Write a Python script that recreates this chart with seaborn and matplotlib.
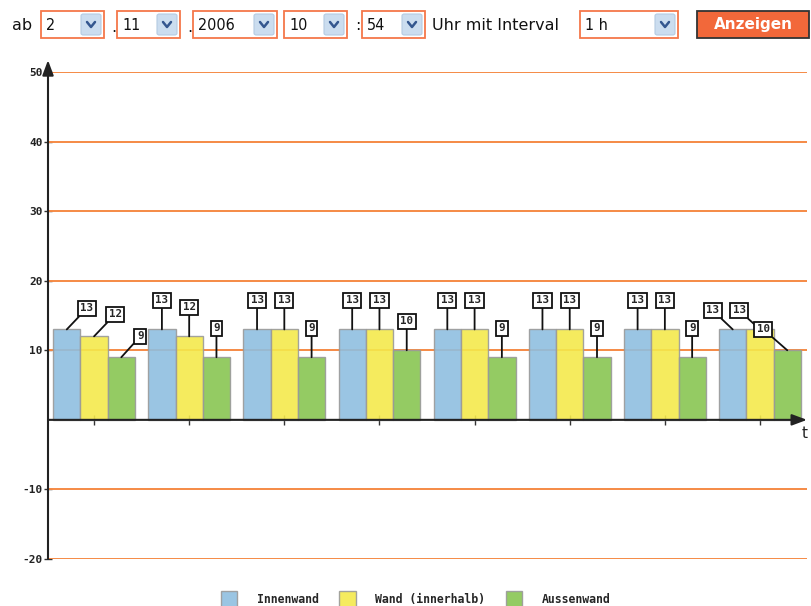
import numpy as np
import pandas as pd
import matplotlib
matplotlib.use('Agg')
import matplotlib.pyplot as plt
from matplotlib.patches import Rectangle, FancyBboxPatch
from matplotlib.lines import Line2D
import seaborn as sns

# values
times = ['1', '2', '3', '4', '5', '6', '7', '8']
innenwand = [13, 13, 13, 13, 13, 13, 13, 13]
wand_innerhalb = [12, 12, 13, 13, 13, 13, 13, 13]
aussenwand = [9, 9, 9, 10, 9, 9, 9, 10]
series_names = ['Innenwand', 'Wand (innerhalb)', 'Aussenwand']
yticks = [-20, -10, 10, 20, 30, 40, 50]

# form controls above the chart
form_values = ['2', '11', '2006', '10', '54', '1 h']

df = pd.DataFrame({
    'time': times * 3,
    'sensor': [series_names[0]] * 8 + [series_names[1]] * 8 + [series_names[2]] * 8,
    'value': innenwand + wand_innerhalb + aussenwand,
})

W, H = 811, 606
sns.set_theme(style='white')
plt.rcParams['font.family'] = ['DejaVu Sans']
fig = plt.figure(figsize=(W / 100, H / 100), dpi=100)
fig.patch.set_facecolor('white')


def fx(x):
    return x / W


def fy(y):
    return 1 - y / H


ax = fig.add_axes([fx(48), fy(559), (807 - 48) / W, (559 - 72) / H])
palette = ['#8fbfe0', '#f4e94c', '#89c652']
sns.barplot(data=df, x='time', y='value', hue='sensor', hue_order=series_names,
            palette=palette, width=0.86, edgecolor='#9a9a9a', linewidth=1.0,
            alpha=0.9, saturation=1, ax=ax, zorder=2)

ax.set_xlim(-0.484, 7.494)
ax.set_ylim(-20, 50)
ax.set_xlabel('')
ax.set_ylabel('')
for s in ax.spines.values():
    s.set_visible(False)
ax.spines['bottom'].set_position(('data', 0))

# orange grid
for v in yticks:
    ax.axhline(v, color='#f58a45', lw=1.4, zorder=1)

ax.set_yticks(yticks)
ax.set_yticklabels([str(v) for v in yticks], family='DejaVu Sans Mono',
                   fontweight='bold', fontsize=8, color='#222222')
ax.tick_params(axis='y', direction='inout', length=6, width=1, color='#333333',
               pad=1, left=True)
ax.set_xticks(range(len(times)))
ax.set_xticklabels([])
ax.tick_params(axis='x', direction='inout', length=7, width=1, color='#333333',
               bottom=True)

# axis lines with arrows
arrow = dict(arrowstyle='-|>,head_length=0.75,head_width=0.28',
             color='#222222', lw=1.5, shrinkA=0, shrinkB=0)
ax.annotate('', xy=(-0.484, 51.7), xytext=(-0.484, -20), annotation_clip=False,
            arrowprops=arrow, zorder=5)
ax.annotate('', xy=(7.494, 0), xytext=(-0.484, 0), annotation_clip=False,
            arrowprops=arrow, zorder=5)
fig.text(fx(805), fy(434), 't', fontsize=11, ha='center', va='center', color='#222222')

# value labels with leader lines
offsets = {0: [(20, 21), (21, 22), (19, 21)],
           7: [(-20, 19), (-21, 19), (-24, 21)]}
for k, cont in enumerate(ax.containers[:3]):
    for g, bar in enumerate(cont):
        h = bar.get_height()
        xc = bar.get_x() + bar.get_width() / 2
        dx, dy = offsets.get(g, [(0, 29)] * 3)[k]
        ax.annotate(f'{int(h)}', xy=(xc, h), xytext=(dx * 0.72, dy * 0.72),
                    textcoords='offset points', ha='center', va='center',
                    family='DejaVu Sans Mono', fontweight='bold', fontsize=7.8,
                    bbox=dict(boxstyle='square,pad=0.24', fc='white', ec='#111111', lw=1.3),
                    arrowprops=dict(arrowstyle='-', color='#111111', lw=1.3,
                                    shrinkA=0, shrinkB=0),
                    zorder=6, annotation_clip=False)

# legend at the bottom
sns.move_legend(ax, 'upper left', bbox_to_anchor=(fx(221), fy(591)),
                bbox_transform=fig.transFigure, ncol=3, frameon=False, title=None,
                borderpad=0, borderaxespad=0, handlelength=1.4, handleheight=1.9,
                handletextpad=1.7, columnspacing=1.8,
                prop={'family': 'DejaVu Sans Mono', 'weight': 'bold', 'size': 8.3})

# form row at the top
boxes = [(41, 104), (117, 180), (193, 277), (284, 347), (362, 425), (580, 678)]
for (x0, x1), val in zip(boxes, form_values):
    fig.patches.append(Rectangle((fx(x0), fy(38)), (x1 - x0) / W, 27 / H,
                                 transform=fig.transFigure, fc='white',
                                 ec='#f4774a', lw=1.3))
    fig.patches.append(FancyBboxPatch((fx(x1 - 23), fy(35)), 20 / W, 21 / H,
                                      boxstyle='round,pad=0,rounding_size=0.003',
                                      transform=fig.transFigure, fc='#cbddef',
                                      ec='#b5cbe2', lw=0.8))
    cx = x1 - 13
    fig.lines.append(Line2D([fx(cx - 4), fx(cx), fx(cx + 4)], [fy(22), fy(27), fy(22)],
                            transform=fig.transFigure, color='#34578f', lw=1.8))
    fig.text(fx(x0 + 5), fy(25), val, fontsize=11.5, ha='left', va='center',
             color='#111111', fontstretch='condensed')

fig.text(fx(12), fy(25), 'ab', fontsize=11.5, ha='left', va='center', color='#111111')
fig.text(fx(111), fy(27), '.', fontsize=11.5, ha='left', va='center', color='#111111')
fig.text(fx(187), fy(27), '.', fontsize=11.5, ha='left', va='center', color='#111111')
fig.text(fx(355), fy(25), ':', fontsize=11.5, ha='left', va='center', color='#111111')
fig.text(fx(432), fy(25), 'Uhr mit Interval', fontsize=11.5, ha='left', va='center',
         color='#111111')

fig.patches.append(Rectangle((fx(697), fy(38)), 112 / W, 27 / H,
                             transform=fig.transFigure, fc='#f2683a',
                             ec='#333333', lw=1.3))
fig.text(fx(753), fy(25), 'Anzeigen', fontsize=11, fontweight='bold', ha='center',
         va='center', color='white')

fig.savefig('out.png', dpi=100)
